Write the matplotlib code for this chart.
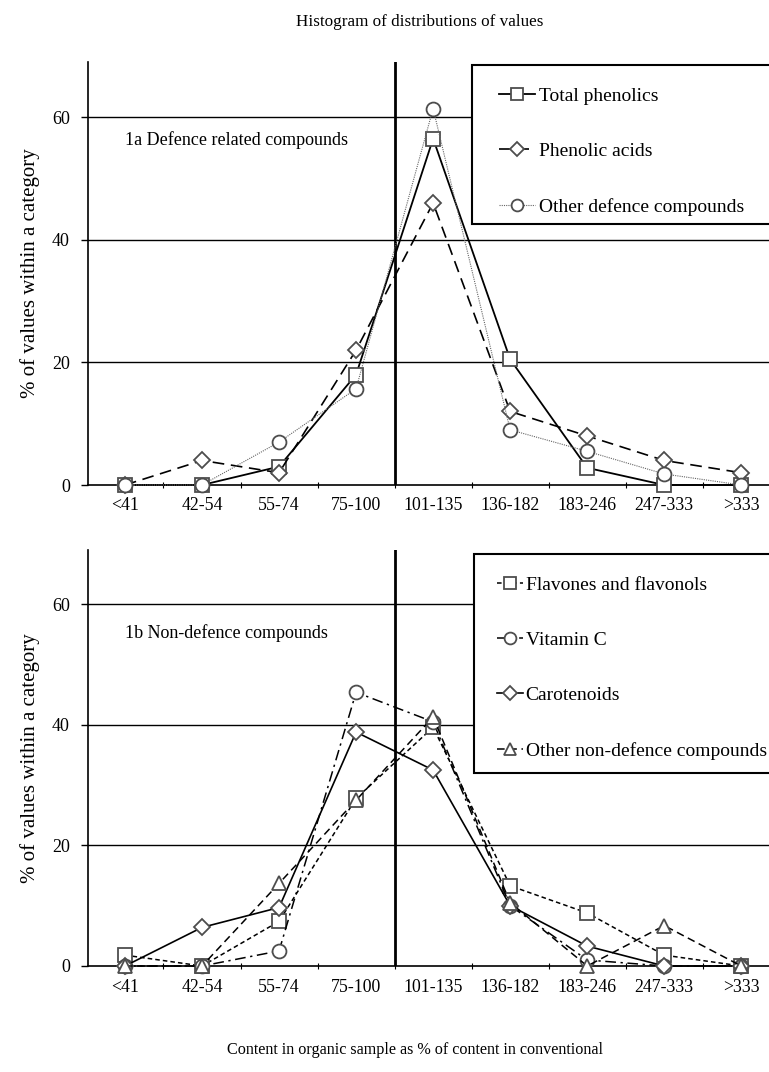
import matplotlib
matplotlib.use("Agg")
import matplotlib.pyplot as plt
from matplotlib.patches import Rectangle

plt.rcParams['font.family'] = ['Liberation Serif', 'DejaVu Serif']

# categories (content in organic as % of conventional)
categories = ['<41', '42-54', '55-74', '75-100', '101-135', '136-182', '183-246', '247-333', '>333']

# 1a defence related compounds
total_phenolics = [0, 0, 3, 18, 56.5, 20.5, 2.8, 0, 0]
phenolic_acids = [0, 4, 2, 22, 46, 12, 8, 4, 2]
other_defence = [0, 0, 7, 15.7, 61.4, 9, 5.5, 1.8, 0]

# 1b non-defence compounds
flavones = [1.8, 0, 7.4, 27.8, 39.6, 13.3, 8.8, 1.8, 0]
vitamin_c = [0, 0, 2.5, 45.4, 40.5, 10, 1, 0, 0]
carotenoids = [0, 6.4, 9.7, 38.8, 32.5, 10, 3.3, 0, 0]
other_non_defence = [0, 0, 13.7, 27.5, 41.3, 10.5, 0, 6.7, 0]

W, H = 769, 1072
fig = plt.figure(figsize=(W / 100, H / 100), dpi=100)


def axes_px(left, top, right, bottom):
    return fig.add_axes([left / W, 1 - bottom / H, (right - left) / W, (bottom - top) / H])


ax1 = axes_px(88, 62, 769, 485)
ax2 = axes_px(88, 550, 769, 966)

x = list(range(len(categories)))
mk = dict(markerfacecolor='white', markeredgecolor='0.3', markeredgewidth=1.3, clip_on=False)


def style_axes(ax, label_text, label_y):
    ax.set_xlim(-0.48, 8.36)
    ax.set_ylim(0, 69)
    for s in ['top', 'right']:
        ax.spines[s].set_visible(False)
    ax.spines['left'].set_linewidth(1.2)
    ax.spines['bottom'].set_linewidth(1.2)
    ax.set_yticks([0, 20, 40, 60])
    for yv in [20, 40, 60]:
        ax.axhline(yv, color='black', lw=1.0, zorder=1)
    ax.axvline(3.5, color='black', lw=2.0, zorder=1)
    ax.set_xticks(x)
    ax.set_xticklabels(categories)
    ax.set_xticks([i + 0.5 for i in range(8)], minor=True)
    ax.tick_params(axis='x', which='major', length=0, labelsize=12.8, pad=9)
    ax.tick_params(axis='x', which='minor', length=4, direction='inout', width=0.8)
    ax.tick_params(axis='y', length=5, width=1, labelsize=13, pad=8)
    ax.set_ylabel('% of values within a category', fontsize=15)
    ax.yaxis.set_label_coords(-0.071, 0.5)
    ax.text(0.055, label_y, label_text, transform=ax.transAxes, fontsize=13, va='center')


style_axes(ax1, '1a Defence related compounds', 0.816)
style_axes(ax2, '1b Non-defence compounds', 0.80)

# top panel lines
ax1.plot(x, total_phenolics, color='black', lw=1.3, marker='s', markersize=10,
         label='Total phenolics', zorder=3, **mk)
ax1.plot(x, phenolic_acids, color='black', lw=1.2, ls=(0, (7, 4)), marker='D', markersize=8,
         label='Phenolic acids', zorder=3, **mk)
ax1.plot(x, other_defence, color='0.4', lw=0.8, ls=(0, (1, 1)), marker='o', markersize=10,
         label='Other defence compounds', zorder=4, **mk)

# bottom panel lines
ax2.plot(x, flavones, color='black', lw=1.1, ls=(0, (3, 2)), marker='s', markersize=10,
         label='Flavones and flavonols', zorder=3, **mk)
ax2.plot(x, vitamin_c, color='black', lw=1.1, ls=(0, (7, 3, 1.5, 3)), marker='o', markersize=10,
         label='Vitamin C', zorder=3, **mk)
ax2.plot(x, carotenoids, color='black', lw=1.2, marker='D', markersize=8,
         label='Carotenoids', zorder=3, **mk)
ax2.plot(x, other_non_defence, color='black', lw=1.1, ls=(0, (5, 3)), marker='^', markersize=10,
         label='Other non-defence compounds', zorder=4, **mk)


def add_legend(ax, box_left, box_top, box_bottom, hstart, hlen, hpad):
    # legend entries without frame, plus a separate frame rectangle
    pad = 1.15
    fs = 14
    pad_px = pad * fs * 100 / 72
    leg = ax.legend(loc='upper left',
                    bbox_to_anchor=((hstart - pad_px) / W, 1 - box_top / H),
                    bbox_transform=fig.transFigure,
                    fontsize=fs, frameon=False, handlelength=hlen,
                    handletextpad=hpad, labelspacing=1.93, borderpad=pad,
                    borderaxespad=0, markerscale=0.85)
    leg.set_zorder(6)
    rect = Rectangle((box_left / W, 1 - box_bottom / H), (W + 20 - box_left) / W,
                     (box_bottom - box_top) / H, transform=fig.transFigure,
                     facecolor='white', edgecolor='black', lw=1.5, zorder=5)
    ax.add_artist(rect)
    rect.set_clip_on(False)


add_legend(ax1, 472, 65, 224, 499, 1.86, 0.2)
add_legend(ax2, 474, 554, 773, 497, 1.35, 0.12)

fig.text(0.546, 1 - 22 / H, 'Histogram of distributions of values', ha='center', va='center', fontsize=12.3)
fig.text(0.54, 1 - 1050 / H, 'Content in organic sample as % of content in conventional',
         ha='center', va='center', fontsize=11.6)

fig.savefig('out.png', dpi=100)
